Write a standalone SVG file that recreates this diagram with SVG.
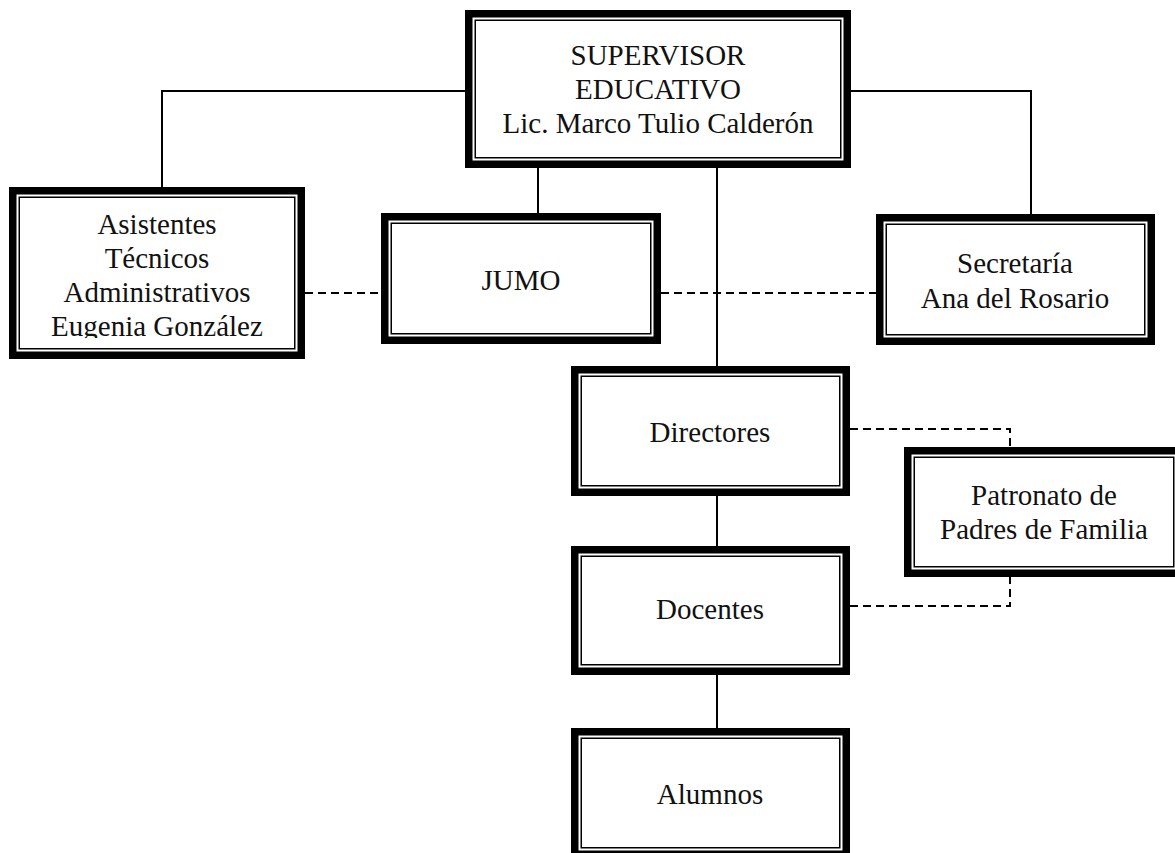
<svg xmlns="http://www.w3.org/2000/svg" width="1175" height="853" viewBox="0 0 1175 853">
<style>
.outer{fill:#fff;stroke:#000;stroke-width:7.5}
.inner{fill:none;stroke:#000;stroke-width:1.5}
.t{font-family:"Liberation Serif","Times New Roman",serif;font-size:29px;fill:#111;text-anchor:middle}
.solid{fill:none;stroke:#000;stroke-width:2}
.dash{fill:none;stroke:#000;stroke-width:2;stroke-dasharray:8 5}
</style>
<defs>
<clipPath id="clipAsis"><rect x="0" y="180" width="320" height="158"/></clipPath>
</defs>
<rect width="1175" height="853" fill="#fff"/>
<g id="connectors">
<path class="dash" d="M305,293 H381"/>
<path class="dash" d="M661,293 H876"/>
<path class="dash" d="M850,429 H1010 V447"/>
<path class="dash" d="M850,606 H1010 V577"/>
<path class="solid" d="M162,187 V91 H465"/>
<path class="solid" d="M851,91 H1031 V214"/>
<path class="solid" d="M538,168 V213"/>
<path class="solid" d="M717,168 V366"/>
<path class="solid" d="M717,496 V546"/>
<path class="solid" d="M717,675 V728"/>
</g>
<g id="supervisor">
<rect class="outer" x="468.75" y="13.75" width="378.5" height="150.5"/>
<rect class="inner" x="475.25" y="20.25" width="365.5" height="137.5"/>
<text class="t" x="658" y="65">SUPERVISOR</text>
<text class="t" x="658" y="99">EDUCATIVO</text>
<text class="t" x="658" y="133">Lic. Marco Tulio Calderón</text>
</g>
<g id="asistentes">
<rect class="outer" x="12.75" y="190.75" width="288.5" height="164.5"/>
<rect class="inner" x="19.25" y="197.25" width="275.5" height="151.5"/>
<g clip-path="url(#clipAsis)">
<text class="t" x="157" y="234">Asistentes</text>
<text class="t" x="157" y="268">Técnicos</text>
<text class="t" x="157" y="302">Administrativos</text>
<text class="t" x="157" y="336">Eugenia González</text>
</g>
</g>
<g id="jumo">
<rect class="outer" x="384.75" y="216.75" width="272.5" height="123.5"/>
<rect class="inner" x="391.25" y="223.25" width="259.5" height="110.5"/>
<text class="t" x="521" y="290">JUMO</text>
</g>
<g id="secretaria">
<rect class="outer" x="879.75" y="217.75" width="271.5" height="123.5"/>
<rect class="inner" x="886.25" y="224.25" width="258.5" height="110.5"/>
<text class="t" x="1015" y="273">Secretaría</text>
<text class="t" x="1015" y="308">Ana del Rosario</text>
</g>
<g id="directores">
<rect class="outer" x="574.75" y="369.75" width="271.5" height="122.5"/>
<rect class="inner" x="581.25" y="376.25" width="258.5" height="109.5"/>
<text class="t" x="710" y="442">Directores</text>
</g>
<g id="patronato">
<rect class="outer" x="907.75" y="450.75" width="272.5" height="122.5"/>
<rect class="inner" x="914.25" y="457.25" width="259.5" height="109.5"/>
<text class="t" x="1044" y="505">Patronato de</text>
<text class="t" x="1044" y="539">Padres de Familia</text>
</g>
<g id="docentes">
<rect class="outer" x="574.75" y="549.75" width="271.5" height="121.5"/>
<rect class="inner" x="581.25" y="556.25" width="258.5" height="108.5"/>
<text class="t" x="710" y="619">Docentes</text>
</g>
<g id="alumnos">
<rect class="outer" x="574.75" y="731.75" width="271.5" height="122.5"/>
<rect class="inner" x="581.25" y="738.25" width="258.5" height="109.5"/>
<text class="t" x="710" y="804">Alumnos</text>
</g>
</svg>
